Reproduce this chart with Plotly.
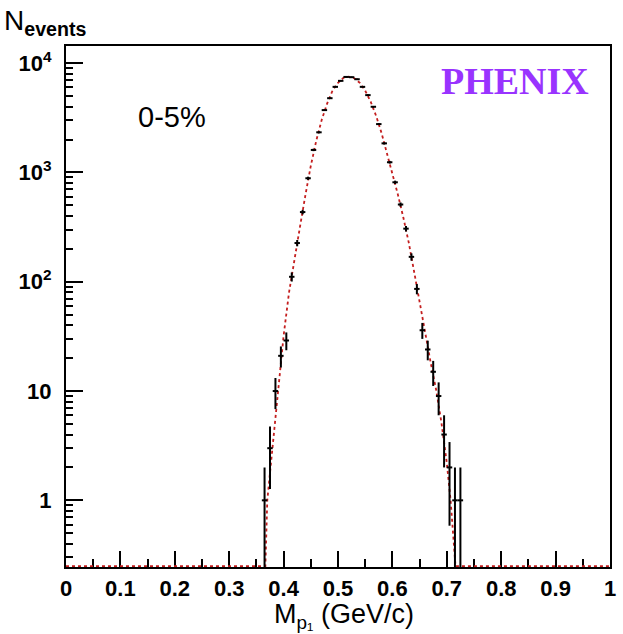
import plotly.graph_objects as go

# Invariant-mass histogram: bin centres (GeV/c) and event counts
mass_bins = [0.365, 0.375, 0.385, 0.395, 0.405, 0.415, 0.425, 0.435, 0.445,
             0.455, 0.465, 0.475, 0.485, 0.495, 0.505, 0.515, 0.525, 0.535,
             0.545, 0.555, 0.565, 0.575, 0.585, 0.595, 0.605, 0.615, 0.625,
             0.635, 0.645, 0.655, 0.665, 0.675, 0.685, 0.695, 0.705, 0.715,
             0.725]
counts = [1, 3, 10, 21, 29, 111, 226, 434, 885,
          1607, 2330, 3720, 4780, 6070, 6890, 7480, 7440, 7130,
          6070, 5100, 3990, 2770, 1846, 1240, 813, 509, 306,
          169, 86, 36, 24, 15, 9, 4, 2, 1,
          1]
bin_half_width = 0.005

# Fit curve sampled along the mass axis (flat parts sit on the frame floor)
fit_mass = [0.0, 0.3665, 0.370, 0.380, 0.390, 0.400, 0.410, 0.420, 0.430,
            0.440, 0.450, 0.460, 0.470, 0.480, 0.490, 0.500, 0.510, 0.520,
            0.530, 0.540, 0.550, 0.560, 0.570, 0.580, 0.590, 0.600, 0.610,
            0.620, 0.630, 0.640, 0.650, 0.660, 0.670, 0.680, 0.690, 0.700,
            0.707, 0.716, 1.0]
fit_events = [0.25, 0.25, 1.0, 3.3, 11, 32, 80, 166, 316,
              617, 1150, 1950, 3020, 4270, 5620, 6610, 7330, 7520,
              7280, 6600, 5600, 4450, 3300, 2300, 1520, 990, 630,
              389, 229, 123, 65, 34, 18.6, 10.5, 5.2, 2.2,
              1.0, 0.25, 0.25]

x_ticks = [0, 0.1, 0.2, 0.3, 0.4, 0.5, 0.6, 0.7, 0.8, 0.9, 1.0]
x_tick_labels = ["0", "0.1", "0.2", "0.3", "0.4", "0.5", "0.6", "0.7", "0.8", "0.9", "1"]
y_ticks = [1, 10, 100, 1000, 10000]
y_tick_labels = ["1", "10", "10<sup>2</sup>", "10<sup>3</sup>", "10<sup>4</sup>"]
y_minor = [m * d for d in (0.1, 1, 10, 100, 1000) for m in range(2, 10)]
y_minor = [v for v in y_minor if v > 0.25 and v < 14000]

# frame geometry in pixels
W, H = 623, 634
L, R, T, B = 66, 616, 46, 567


def px(x):
    return (x - L) / (R - L)


def py(y):
    return (B - y) / (B - T)


fig = go.Figure()

fig.add_trace(go.Scatter(
    x=fit_mass, y=fit_events, mode="lines",
    line=dict(color="#c41e1e", width=1.8, dash="dot"),
    hoverinfo="skip", showlegend=False,
))

fig.add_trace(go.Scatter(
    x=mass_bins, y=counts, mode="markers",
    marker=dict(size=1, color="black"),
    error_x=dict(type="constant", value=bin_half_width, width=0,
                 thickness=2, color="black"),
    error_y=dict(type="data", array=[c ** 0.5 for c in counts], width=0,
                 thickness=2, color="black"),
    showlegend=False,
))

tick_font = dict(family="Liberation Sans, Arial, sans-serif", size=22,
                 color="black", weight="bold")

fig.update_xaxes(
    range=[0, 1], tickmode="array", tickvals=x_ticks, ticktext=x_tick_labels,
    ticks="inside", ticklen=16, tickwidth=2, tickcolor="black",
    minor=dict(ticks="inside", ticklen=8, tickwidth=2, tickcolor="black",
               dtick=0.05, tick0=0, showgrid=False),
    showline=True, linecolor="black", linewidth=2, mirror=True,
    showgrid=False, zeroline=False, tickfont=tick_font,
    ticklabelstandoff=1, layer="below traces",
)
fig.update_yaxes(
    type="log", range=[-0.61, 4.157], tickmode="array", tickvals=y_ticks,
    ticktext=y_tick_labels,
    ticks="inside", ticklen=17, tickwidth=2, tickcolor="black",
    minor=dict(ticks="inside", ticklen=7, tickwidth=2, tickcolor="black",
               tickmode="array", tickvals=y_minor, showgrid=False),
    showline=True, linecolor="black", linewidth=2, mirror=True,
    showgrid=False, zeroline=False, tickfont=tick_font,
    ticklabelstandoff=8, layer="below traces",
)

annotations = [
    dict(text="N<sub><b>events</b></sub>", x=px(1), y=py(3), xanchor="left",
         yanchor="top", font=dict(family="Liberation Sans, Arial", size=28,
                                  color="black")),
    dict(text="0-5%", x=px(173), y=py(117), xanchor="center", yanchor="middle",
         font=dict(family="Liberation Sans, Arial", size=29, color="black")),
    dict(text="<b>PHENIX</b>", x=px(520), y=py(81), xanchor="center",
         yanchor="middle",
         font=dict(family="Liberation Serif, Times New Roman, serif", size=38,
                   color="#9933ff")),
    dict(text="M<sub>p\u2081</sub> (GeV/c)", x=px(347), y=py(616),
         xanchor="center", yanchor="middle",
         font=dict(family="Liberation Sans, Arial", size=27, color="black")),
]
for a in annotations:
    a.update(xref="paper", yref="paper", showarrow=False)

fig.update_layout(
    width=W, height=H,
    margin=dict(l=L, r=W - R, t=T, b=H - B, pad=0),
    paper_bgcolor="white", plot_bgcolor="white",
    annotations=annotations, showlegend=False,
)

fig.write_html("out.html")
